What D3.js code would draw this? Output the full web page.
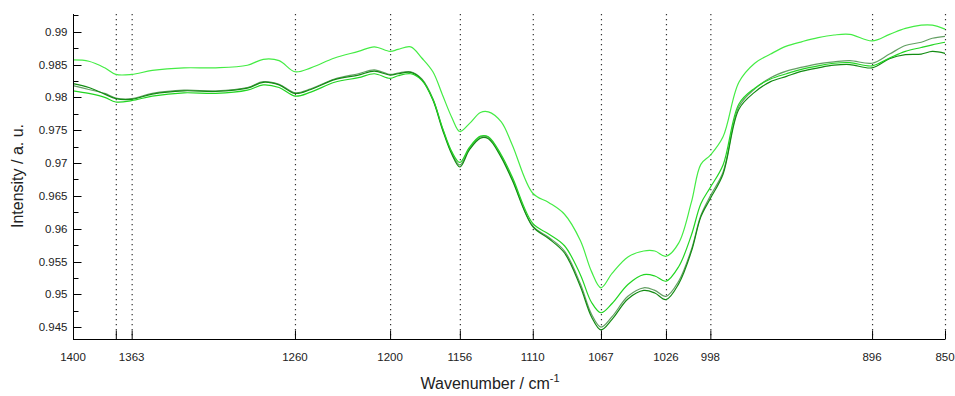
<!DOCTYPE html>
<html>

<head>
    <meta charset="UTF-8">
    <style>
        body {
            margin: 0;
            background: #fff;
        }

        text {
            font-family: "Liberation Sans", Arial, sans-serif;
            fill: #222;
        }
    </style>
</head>

<body>
    <svg></svg>

    <script src="https://d3js.org/d3.v7.min.js"></script>

    <script>
        let width = 955, height = 396;

        // wavenumbers (cm-1), shared by all spectra
        let wavenumber = [1400, 1390, 1380, 1373, 1363, 1350, 1330, 1310, 1290, 1280, 1270, 1260, 1250, 1235, 1220,
            1210, 1200, 1195, 1187, 1180, 1173, 1167, 1161, 1156, 1150, 1143, 1138, 1130, 1123, 1110, 1100, 1090,
            1080, 1073, 1067, 1060, 1050, 1040, 1033, 1026, 1018, 1010, 1004, 998, 990, 980, 970, 960, 950, 940,
            930, 920, 910, 896, 885, 875, 865, 858, 850];

        let specA = [0.9857, 0.9855, 0.9845, 0.9835, 0.9835, 0.9841, 0.9845, 0.9845, 0.9849, 0.9858, 0.9856, 0.9839,
            0.9845, 0.9860, 0.9870, 0.9877, 0.9870, 0.9873, 0.9877, 0.9860, 0.9839, 0.9804, 0.9769, 0.9748, 0.9760,
            0.9777, 0.9778, 0.9763, 0.9728, 0.9654, 0.9640, 0.9622, 0.9582, 0.9535, 0.9510, 0.9532, 0.9557, 0.9566,
            0.9566, 0.9558, 0.9578, 0.9640, 0.9698, 0.9712, 0.9740, 0.9823, 0.9852, 0.9866, 0.9878, 0.9885, 0.9891,
            0.9895, 0.9896, 0.9886, 0.9896, 0.9905, 0.9910, 0.9910, 0.9904];

        let specB = [0.9810, 0.9806, 0.9800, 0.9793, 0.9795, 0.9802, 0.9807, 0.9806, 0.9811, 0.9819, 0.9815, 0.9802,
            0.9808, 0.9823, 0.9830, 0.9836, 0.9829, 0.9833, 0.9836, 0.9826, 0.9797, 0.9754, 0.9717, 0.9701, 0.9724,
            0.9741, 0.9740, 0.9713, 0.9679, 0.9608, 0.9592, 0.9574, 0.9530, 0.9488, 0.9472, 0.9486, 0.9515, 0.9530,
            0.9528, 0.9520, 0.9542, 0.9590, 0.9638, 0.9663, 0.9697, 0.9790, 0.9814, 0.9828, 0.9836, 0.9843, 0.9848,
            0.9852, 0.9853, 0.9848, 0.9860, 0.9870, 0.9876, 0.9880, 0.9884];

        let specC = [0.9821, 0.9815, 0.9805, 0.9798, 0.9797, 0.9805, 0.9810, 0.9809, 0.9814, 0.9823, 0.9819, 0.9806,
            0.9812, 0.9827, 0.9834, 0.9840, 0.9834, 0.9836, 0.9838, 0.9827, 0.9796, 0.9751, 0.9713, 0.9694, 0.9720,
            0.9738, 0.9737, 0.9709, 0.9674, 0.9603, 0.9585, 0.9563, 0.9512, 0.9466, 0.9446, 0.9462, 0.9493, 0.9506,
            0.9502, 0.9492, 0.9516, 0.9565, 0.9618, 0.9646, 0.9683, 0.9782, 0.9808, 0.9824, 0.9832, 0.9840, 0.9845,
            0.9849, 0.9850, 0.9845, 0.9859, 0.9865, 0.9866, 0.9870, 0.9867];

        let specD = [0.9818, 0.9812, 0.9806, 0.9799, 0.9798, 0.9806, 0.9811, 0.9810, 0.9815, 0.9824, 0.9820, 0.9807,
            0.9813, 0.9828, 0.9836, 0.9842, 0.9835, 0.9837, 0.9839, 0.9828, 0.9798, 0.9753, 0.9715, 0.9697, 0.9722,
            0.9740, 0.9739, 0.9711, 0.9676, 0.9604, 0.9587, 0.9566, 0.9516, 0.9470, 0.9450, 0.9466, 0.9497, 0.9510,
            0.9506, 0.9497, 0.9520, 0.9568, 0.9620, 0.9650, 0.9686, 0.9786, 0.9813, 0.9830, 0.9840, 0.9846, 0.9851,
            0.9854, 0.9856, 0.9852, 0.9866, 0.9879, 0.9884, 0.9890, 0.9893];

        let peaks = [1373, 1363, 1260, 1200, 1156, 1110, 1067, 1026, 998, 896, 850];
        let xTickLabels = [1400, 1363, 1260, 1200, 1156, 1110, 1067, 1026, 998, 896, 850];
        let yTicks = [0.945, 0.95, 0.955, 0.96, 0.965, 0.97, 0.975, 0.98, 0.985, 0.99];
        let yMinor = [0.9475, 0.9525, 0.9575, 0.9625, 0.9675, 0.9725, 0.9775, 0.9825, 0.9875, 0.9925];

        let series = [
            { name: "D", values: specD, color: "#639f63" },
            { name: "C", values: specC, color: "#138c13" },
            { name: "B", values: specB, color: "#22d622" },
            { name: "A", values: specA, color: "#44ec44" }
        ];

        let margin = { left: 73, right: 10, top: 14, bottom: 57 };

        let svg = d3.select("svg")
            .attr("width", width)
            .attr("height", height);

        let x = d3.scaleLinear()
            .domain([1400, 850])
            .range([margin.left, width - margin.right]);

        let y = d3.scaleLinear()
            .domain([0.9432, 0.9927])
            .range([height - margin.bottom, margin.top]);

        // dotted peak markers
        svg.append("g")
            .selectAll("line")
            .data(peaks)
            .enter()
            .append("line")
            .attr("x1", d => x(d) + 0.5)
            .attr("x2", d => x(d) + 0.5)
            .attr("y1", margin.top)
            .attr("y2", height - margin.bottom)
            .attr("stroke", "#333")
            .attr("stroke-width", 1.2)
            .attr("stroke-dasharray", "1.2,3.8");

        let line = d3.line()
            .x((d, i) => x(wavenumber[i]))
            .y(d => y(d))
            .curve(d3.curveCatmullRom.alpha(0.5));

        svg.append("g")
            .selectAll("path")
            .data(series)
            .enter()
            .append("path")
            .attr("fill", "none")
            .attr("stroke", d => d.color)
            .attr("stroke-width", 1.2)
            .attr("d", d => line(d.values));

        // x axis, ticks point up into the plot
        let xAxis = svg.append("g")
            .attr("transform", "translate(0," + (height - margin.bottom + 0.5) + ")");

        xAxis.append("line")
            .attr("x1", margin.left)
            .attr("x2", width - margin.right)
            .attr("stroke", "#000");

        xAxis.selectAll(".tick")
            .data(peaks)
            .enter()
            .append("line")
            .attr("class", "tick")
            .attr("x1", d => x(d) + 0.5)
            .attr("x2", d => x(d) + 0.5)
            .attr("y1", 0)
            .attr("y2", -9)
            .attr("stroke", "#000");

        xAxis.selectAll("text")
            .data(xTickLabels)
            .enter()
            .append("text")
            .attr("x", d => x(d))
            .attr("y", 21)
            .attr("text-anchor", "middle")
            .style("font-size", "11.5px")
            .text(d => d);

        // y axis, ticks point right
        let yAxis = svg.append("g")
            .attr("transform", "translate(" + (margin.left + 0.5) + ",0)");

        yAxis.append("line")
            .attr("y1", margin.top)
            .attr("y2", height - margin.bottom)
            .attr("stroke", "#000");

        yAxis.selectAll(".major")
            .data(yTicks)
            .enter()
            .append("line")
            .attr("class", "major")
            .attr("y1", d => Math.round(y(d)) + 0.5)
            .attr("y2", d => Math.round(y(d)) + 0.5)
            .attr("x1", 0)
            .attr("x2", 8)
            .attr("stroke", "#000");

        yAxis.selectAll(".minor")
            .data(yMinor)
            .enter()
            .append("line")
            .attr("class", "minor")
            .attr("y1", d => Math.round(y(d)) + 0.5)
            .attr("y2", d => Math.round(y(d)) + 0.5)
            .attr("x1", 0)
            .attr("x2", 5)
            .attr("stroke", "#000");

        yAxis.selectAll("text")
            .data(yTicks)
            .enter()
            .append("text")
            .attr("x", -6)
            .attr("y", d => y(d))
            .attr("dy", "0.35em")
            .attr("text-anchor", "end")
            .style("font-size", "11.5px")
            .text(d => d);

        // axis titles
        let xTitle = svg.append("text")
            .attr("x", 490)
            .attr("y", 389)
            .attr("text-anchor", "middle")
            .style("font-size", "16px");
        xTitle.append("tspan").text("Wavenumber / cm");
        xTitle.append("tspan")
            .attr("dy", -7)
            .style("font-size", "11px")
            .text("-1");

        svg.append("text")
            .attr("transform", "translate(23," + 176 + ") rotate(-90)")
            .attr("text-anchor", "middle")
            .style("font-size", "16px")
            .text("Intensity / a. u.");
    </script>

</body>

</html>
